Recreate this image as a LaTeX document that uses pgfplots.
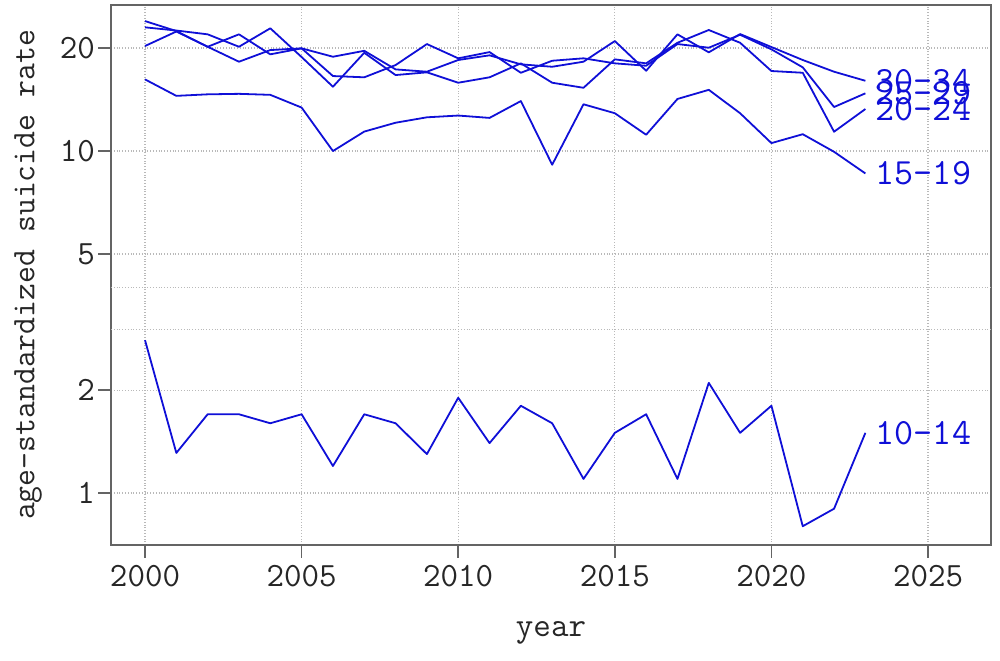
\documentclass[border=0pt]{standalone}
\usepackage{pgfplots}
\pgfplotsset{compat=1.18}
\usetikzlibrary{calc}
\definecolor{lineblue}{RGB}{15,15,215}
\definecolor{framegray}{RGB}{100,100,100}

\pgfplotstableread{
year a1014 a1519 a2024 a2529 a3034
2000 2.80 16.20 23.00 20.28 23.99
2001 1.31 14.50 22.51 22.36 22.43
2002 1.70 14.65 21.94 20.18 20.18
2003 1.70 14.70 20.18 21.94 18.25
2004 1.60 14.60 22.85 19.18 19.74
2005 1.70 13.40 18.83 19.97 19.97
2006 1.20 10.00 15.42 16.57 18.87
2007 1.70 11.40 19.38 16.43 19.64
2008 1.60 12.10 16.68 17.84 17.33
2009 1.30 12.55 16.99 20.55 17.06
2010 1.90 12.70 15.84 18.67 18.46
2011 1.40 12.50 16.43 19.47 19.05
2012 1.80 14.00 18.05 16.94 17.93
2013 1.60 9.12 15.84 18.37 17.64
2014 1.10 13.70 15.31 18.67 18.25
2015 1.50 12.90 18.54 18.05 20.97
2016 1.70 11.16 18.05 17.76 17.17
2017 1.10 14.20 20.73 20.55 21.94
2018 2.10 15.10 22.59 20.05 19.44
2019 1.50 12.90 20.73 21.88 21.98
2020 1.80 10.55 17.14 19.83 20.14
2021 0.80 11.20 16.94 17.57 18.46
2022 0.90 9.95 11.39 13.45 17.06
2023 1.50 8.60 13.27 14.75 16.05
}\rates

\tikzset{rateline/.style={lineblue, line width=0.9pt, line join=round, mark=none}}

\begin{document}
\begin{tikzpicture}
\begin{axis}[
    scale only axis,
    width=440pt,
    height=270pt,
    xmin=1998.914, xmax=2027.011,
    ymode=log,
    ymin=0.705, ymax=26.73,
    xtick={2000,2005,2010,2015,2020,2025},
    xticklabels={2000,2005,2010,2015,2020,2025},
    ytick={1,2,5,10,20},
    yticklabels={1,2,5,10,20},
    extra y ticks={3,4},
    extra y tick labels={},
    extra y tick style={grid=major, major tick length=0pt},
    yminorticks=false,
    xtick pos=left,
    ytick pos=left,
    tick align=outside,
    major tick length=6.5pt,
    axis line style={framegray, line width=0.8pt},
    every tick/.style={framegray, line width=0.8pt},
    grid=major,
    major grid style={gray!55, densely dotted, line width=0.6pt},
    /pgf/number format/assume math mode=true,
    tick label style={font=\fontsize{17}{20}\selectfont\ttfamily, black!85},
    yticklabel style={xshift=2pt},
    xlabel style={font=\fontsize{17}{20}\selectfont\ttfamily, black!85},
    ylabel style={font=\fontsize{16.4}{19}\selectfont\ttfamily, black!85},
    xlabel={year},
    ylabel={age-standardized suicide rate},
    xlabel style={at={(axis description cs:0.5,-0.163)}, anchor=center},
    ylabel style={at={(axis description cs:-0.0943,0.5)}, anchor=center},
]
    \addplot[rateline] table[x=year, y=a1014] {\rates};
    \addplot[rateline] table[x=year, y=a1519] {\rates};
    \addplot[rateline] table[x=year, y=a2024] {\rates};
    \addplot[rateline] table[x=year, y=a2529] {\rates};
    \addplot[rateline] table[x=year, y=a3034] {\rates};

    \begin{scope}[every node/.style={anchor=west, inner sep=0pt, xshift=5pt, text=lineblue, font=\fontsize{18.5}{21}\selectfont\ttfamily}]
    \node at (axis cs:2023,1.50) {10-14};
    \node at (axis cs:2023,8.60) {15-19};
    \node at (axis cs:2023,13.27) {20-24};
    \node at (axis cs:2023,14.75) {25-29};
    \node at (axis cs:2023,16.05) {30-34};
    \end{scope}

    \coordinate (SW) at (rel axis cs:0,0);
    \coordinate (NE) at (rel axis cs:1,1);
\end{axis}
\pgfresetboundingbox
\path[use as bounding box] ($(SW)+(-55.5pt,-57.5pt)$) rectangle ($(NE)+(4.5pt,2.5pt)$);
\end{tikzpicture}
\end{document}
